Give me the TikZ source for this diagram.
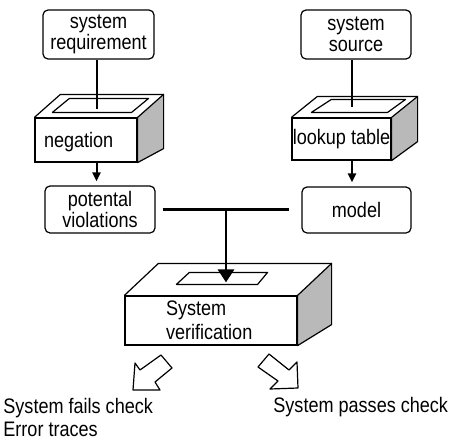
\documentclass[tikz,border=0pt]{standalone}
\usepackage{fontspec}
\setmainfont{Liberation Sans}[FakeStretch=0.86]
\usetikzlibrary{calc,arrows.meta}

% open-topped block: top face outline and shaded right side of a front-face node
% #1 node, (#2,#3) depth vector, #4 rise of the back bottom corner of the side
\newcommand\slab[4]{%
  \filldraw[sidefill, edge line] (#1.north east) -- ++(#2,#3)
    -- ($(#1.south east)+(#2,#4)$) -- (#1.south east) -- cycle;
  \draw[edge line] (#1.north west) -- ++(#2,#3) -- ($(#1.north east)+(#2,#3)$);
}

\begin{document}
\begin{tikzpicture}[x=0.5pt,y=-0.5pt,
  every node/.style={font=\fontsize{10.5pt}{10.5pt}\selectfont, inner sep=0pt},
  rbox/.style={draw, line width=0.6pt, rounded corners=2.5pt, align=center},
  face/.style={draw, line width=0.6pt, fill=white},
  edge line/.style={line width=0.6pt, line join=round},
  sidefill/.style={fill=gray!55},
  feed/.style={line width=1pt},
  smallhead/.style={-{Triangle[width=4pt,length=4.5pt]}},
  bighead/.style={-{Triangle[width=8pt,length=6.5pt]}},
  caption/.style={anchor=base west, font=\fontsize{10.5pt}{12pt}\selectfont},
]
\useasboundingbox (0,0) rectangle (450,439);

% sources
\node[rbox, minimum width=55.5pt, minimum height=24.5pt] (sysreq) at (98.5,34.5) {system\\requirement};
\node[rbox, minimum width=55pt, minimum height=24.5pt] (syssrc) at (356,34.5) {system\\source};

% transformation blocks
\node[face, minimum height=22pt, text width=42pt, inner xsep=4.5pt, align=left,
      text height=10pt] (neg) at (86,140) {negation};
\slab{neg}{26}{-23}{-14}
\draw[edge line] ($(neg.north west)+(18,-5)$) -- ($(neg.north east)+(-6,-5)$)
  -- ($(neg.north east)+(11,-19)$) -- ($(neg.north west)+(35,-19)$) -- cycle;

\node[face, minimum width=49.5pt, minimum height=21pt] (look) at (341.5,139) {lookup table};
\slab{look}{26}{-21}{-19}
\draw[edge line] ($(look.north west)+(20,-5)$) -- ($(look.north east)+(-4,-5)$)
  -- ($(look.north east)+(14,-18)$) -- ($(look.north west)+(40,-18)$) -- cycle;

% intermediate results
\node[rbox, minimum width=55pt, minimum height=23.5pt] (pot) at (100,209.5) {potental\\violations};
\node[rbox, minimum width=54.5pt, minimum height=23pt] (model) at (356.5,210) {model};

% verification block
\node[face, minimum height=24.5pt, text width=45pt, inner xsep=20.5pt, align=left,
      font=\fontsize{10.5pt}{12pt}\selectfont] (ver) at (211,320.5) {System\\verification};
\slab{ver}{34}{-32}{-21}
\draw[edge line] ($(ver.north west)+(52,-11)$) -- ($(ver.north east)+(-40,-11)$)
  -- ($(ver.north east)+(-30,-23)$) -- ($(ver.north west)+(65,-23)$) -- cycle;

% connectors
\coordinate (negin) at ($(sysreq.south |- neg.north)+(-2,-8)$);
\draw[feed] (negin |- sysreq.south) -- (negin);
\draw[feed, smallhead, shorten >=2pt] (negin |- neg.south) -- (negin |- pot.north);

\coordinate (lookin) at ($(syssrc.south |- look.north)+(-4,-10)$);
\draw[feed] (lookin |- syssrc.south) -- (lookin);
\draw[feed, smallhead, shorten >=2pt] (lookin |- look.south) -- (lookin |- model.north);

\coordinate (barL) at ($(pot.east)+(7,0)$);
\coordinate (barR) at ($(model.west)+(-12,0)$);
\draw[line width=1.5pt] (barL) -- (barL -| barR);
\coordinate (barM) at ($(barL)!0.5!(barL -| barR)$);
\coordinate (verin) at ($(barM |- ver.north)+(0,-13)$);
\draw[line width=1.4pt, bighead] (barM) -- (verin);

% outcome arrows
\draw[edge line] (133,390) -- (135,363) -- (140,370) -- (161,355) -- (172,368)
  -- (155,382) -- (160,390) -- cycle;
\draw[edge line] (298,388) -- (297,362) -- (289,370) -- (269,354) -- (258,367)
  -- (278,381) -- (270,389) -- cycle;

% outcomes
\node[caption] (fail) at (3,413) {System fails check};
\node[caption] (trace) at (3,436) {Error traces};
\node[caption] (pass) at (273,412) {System passes check};
\end{tikzpicture}
\end{document}
